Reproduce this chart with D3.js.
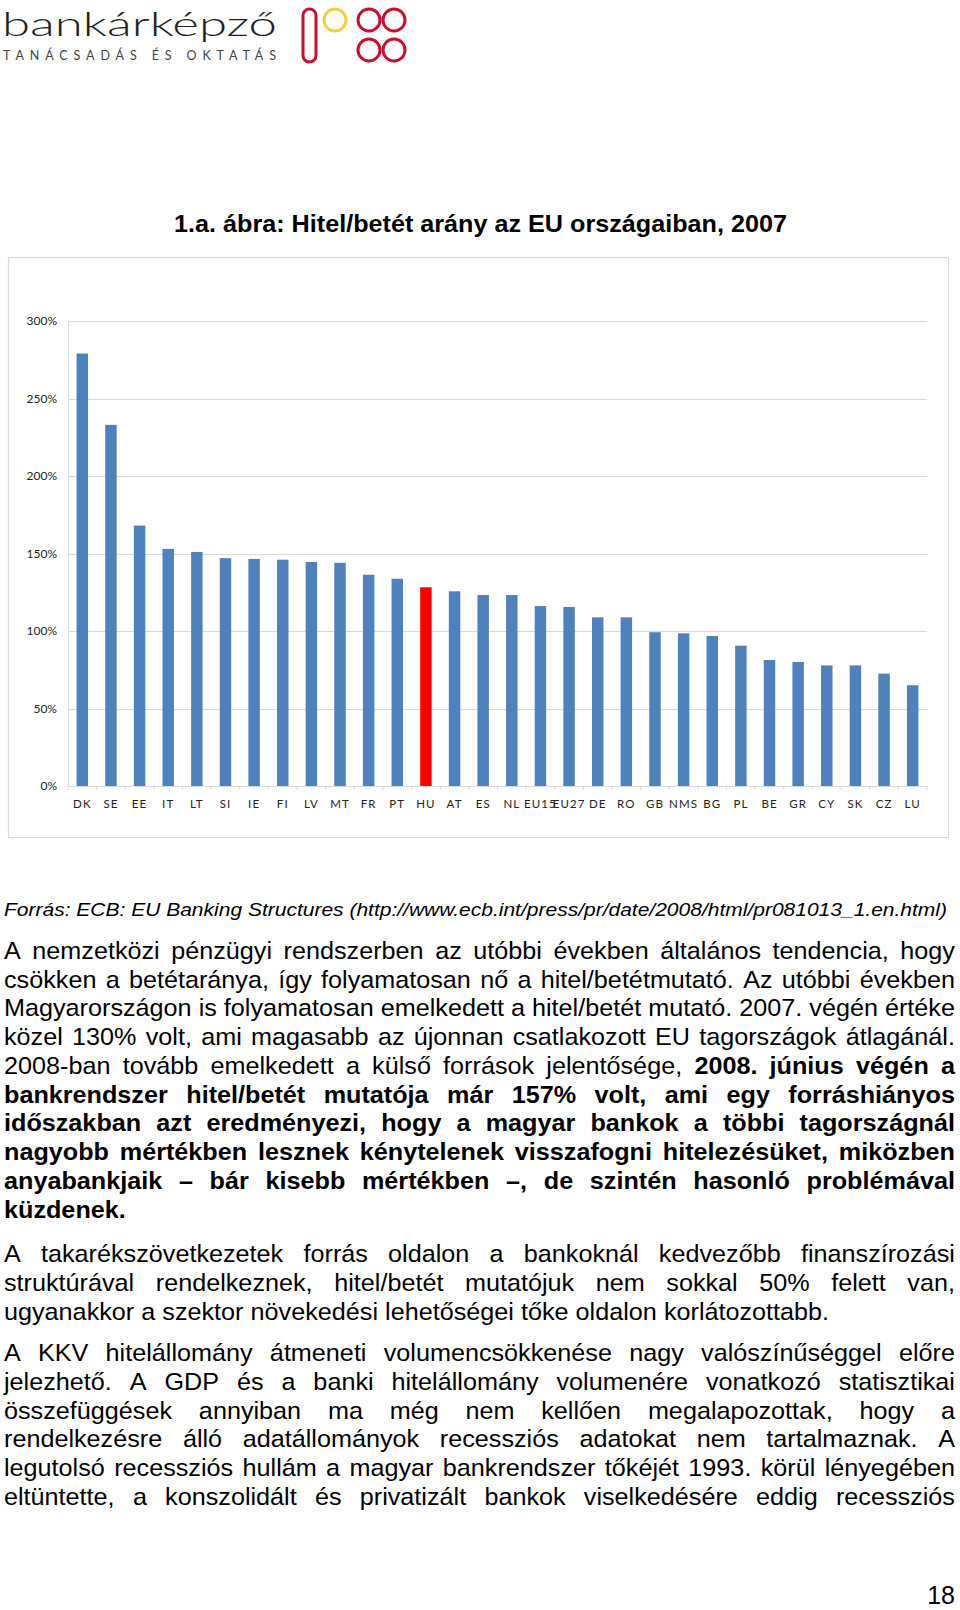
<!DOCTYPE html>
<html><head><meta charset="utf-8">
<script src="https://cdn.jsdelivr.net/npm/d3@7/dist/d3.min.js"></script>
<style>html,body{margin:0;padding:0;background:#fff;}svg{display:block;}</style>
</head><body>
<svg id="page" width="960" height="1610"></svg>
<script>
// ---- chart data ----
const categories = ["DK","SE","EE","IT","LT","SI","IE","FI","LV","MT","FR","PT","HU","AT","ES","NL","EU15","EU27","DE","RO","GB","NMS","BG","PL","BE","GR","CY","SK","CZ","LU"];
const values = [279,233,168,153,151,147,146.5,146,144.5,144,136.3,133.7,128.2,125.6,123.2,123.2,116.1,115.5,108.8,108.8,99.2,98.5,96.8,90.5,81.3,80,77.8,77.8,72.5,65];
const highlighted = ["HU"];
const yTicks = [0,50,100,150,200,250,300];
const chartTitle = "1.a. ábra: Hitel/betét arány az EU országaiban, 2007";
const sourceText = "Forrás: ECB: EU Banking Structures (http://www.ecb.int/press/pr/date/2008/html/pr081013_1.en.html)";
// body lines: [text, index of first bold word (-1 none), justified]
const bodyLines = [
 ["A nemzetközi pénzügyi rendszerben az utóbbi években általános tendencia, hogy",-1,true],
 ["csökken a betétaránya, így folyamatosan nő a hitel/betétmutató. Az utóbbi években",-1,true],
 ["Magyarországon is folyamatosan emelkedett a hitel/betét mutató. 2007. végén értéke",-1,true],
 ["közel 130% volt, ami magasabb az újonnan csatlakozott EU tagországok átlagánál.",-1,true],
 ["2008-ban tovább emelkedett a külső források jelentősége, 2008. június végén a",7,true],
 ["bankrendszer hitel/betét mutatója már 157% volt, ami egy forráshiányos",0,true],
 ["időszakban azt eredményezi, hogy a magyar bankok a többi tagországnál",0,true],
 ["nagyobb mértékben lesznek kénytelenek visszafogni hitelezésüket, miközben",0,true],
 ["anyabankjaik – bár kisebb mértékben –, de szintén hasonló problémával",0,true],
 ["küzdenek.",0,false],
 ["A takarékszövetkezetek forrás oldalon a bankoknál kedvezőbb finanszírozási",-1,true],
 ["struktúrával rendelkeznek, hitel/betét mutatójuk nem sokkal 50% felett van,",-1,true],
 ["ugyanakkor a szektor növekedési lehetőségei tőke oldalon korlátozottabb.",-1,false],
 ["A KKV hitelállomány átmeneti volumencsökkenése nagy valószínűséggel előre",-1,true],
 ["jelezhető. A GDP és a banki hitelállomány volumenére vonatkozó statisztikai",-1,true],
 ["összefüggések annyiban ma még nem kellően megalapozottak, hogy a",-1,true],
 ["rendelkezésre álló adatállományok recessziós adatokat nem tartalmaznak. A",-1,true],
 ["legutolsó recessziós hullám a magyar bankrendszer tőkéjét 1993. körül lényegében",-1,true],
 ["eltüntette, a konszolidált és privatizált bankok viselkedésére eddig recessziós",-1,true]
];
const bodyBaselines = [959,988,1016,1045,1074,1103,1131,1160,1189,1218,1262,1291,1320,1361,1390,1419,1447,1476,1505];

const svg = d3.select("#page");

// ---- logo ----
const logo = svg.append("g");
logo.append("text").attr("x",2).attr("y",36).attr("font-family","Lato").attr("font-weight",300)
  .attr("font-size",34).attr("fill","#231f20").attr("textLength",275).attr("lengthAdjust","spacingAndGlyphs")
  .text("bankárképző");
logo.append("text").attr("x",3).attr("y",60).attr("font-family","Lato").attr("font-size",12.5)
  .attr("fill","#444").attr("textLength",273).attr("lengthAdjust","spacing")
  .text("TANÁCSADÁS ÉS OKTATÁS");
const red = "#c8102e";
logo.append("rect").attr("x",303).attr("y",9).attr("width",13).attr("height",53).attr("rx",6.5)
  .attr("fill","none").attr("stroke",red).attr("stroke-width",3);
logo.append("circle").attr("cx",335).attr("cy",20).attr("r",11).attr("fill","none").attr("stroke","#f2cf3c").attr("stroke-width",3);
[[369,20],[394,20],[369,50],[394,50]].forEach(([cx,cy])=>{
  logo.append("circle").attr("cx",cx).attr("cy",cy).attr("r",11).attr("fill","none").attr("stroke",red).attr("stroke-width",3);
});

// ---- title ----
svg.append("text").attr("x",174).attr("y",232).attr("font-family","Liberation Sans, Arial").attr("font-weight","bold")
  .attr("font-size",24).attr("fill","#000").attr("textLength",613).attr("lengthAdjust","spacingAndGlyphs").text(chartTitle);

// ---- chart ----
svg.append("rect").attr("x",8.5).attr("y",257.5).attr("width",940).attr("height",580)
  .attr("fill","#fff").attr("stroke","#d9d9d9").attr("stroke-width",1.2);

const x = d3.scaleBand().domain(categories).range([68,927]).paddingInner(0.6).paddingOuter(0.3);
const y = d3.scaleLinear().domain([0,300]).range([786,321]);

const grid = svg.append("g");
grid.selectAll("line").data(yTicks.filter(d=>d>0)).join("line")
  .attr("x1",68).attr("x2",927).attr("y1",d=>Math.round(y(d))+0.5).attr("y2",d=>Math.round(y(d))+0.5)
  .attr("stroke","#d9d9d9").attr("stroke-width",1);

const yAxis = svg.append("g").attr("transform","translate(68,0)")
  .call(d3.axisLeft(y).tickValues(yTicks).tickFormat(d=>d+"%").tickSize(0).tickPadding(11));
yAxis.select(".domain").attr("stroke","#d9d9d9");
yAxis.selectAll("text").attr("font-family","Lato").attr("font-size",12).attr("fill","#222");

svg.append("g").selectAll("rect").data(categories).join("rect")
  .attr("x",d=>x(d)).attr("width",x.bandwidth())
  .attr("y",(d,i)=>y(values[i])).attr("height",(d,i)=>y(0)-y(values[i]))
  .attr("fill",d=>highlighted.includes(d)?"#ff0000":"#4f81bd");

const xAxis = svg.append("g").attr("transform","translate(0,786)")
  .call(d3.axisBottom(x).tickSize(0).tickPadding(14));
xAxis.select(".domain").attr("stroke","#d9d9d9");
xAxis.selectAll("text").attr("font-family","Lato").attr("font-size",11.5).attr("fill","#222").attr("letter-spacing","1.1px");
// boundary tick marks
svg.append("g").selectAll("line").data(d3.range(categories.length+1)).join("line")
  .attr("x1",i=>68+i*x.step()).attr("x2",i=>68+i*x.step()).attr("y1",786).attr("y2",790)
  .attr("stroke","#d9d9d9");

// ---- source ----
svg.append("text").attr("x",4).attr("y",916).attr("font-family","Liberation Sans Narrow, Liberation Sans, Arial")
  .attr("font-style","italic").attr("font-size",19).attr("fill","#000")
  .attr("textLength",943).attr("lengthAdjust","spacingAndGlyphs").text(sourceText);

// ---- body text (justified) ----
const bodyFont = 24, sx = 1.05, left = 4, right = 955;
bodyLines.forEach(([txt,boldFrom,just],li)=>{
  const words = txt.split(" ");
  const g = svg.append("g");
  const nodes = words.map((w,wi)=>g.append("text")
    .attr("font-family","Liberation Sans, Arial").attr("font-size",bodyFont)
    .attr("font-weight",(boldFrom>=0 && wi>=boldFrom)?"bold":"normal").attr("fill","#000").text(w));
  const widths = nodes.map(n=>n.node().getComputedTextLength()*sx);
  const total = d3.sum(widths);
  const space = bodyFont*0.278*sx;
  const gap = (just && words.length>1) ? (right-left-total)/(words.length-1) : space;
  let cx = left;
  nodes.forEach((n,i)=>{ n.attr("transform",`translate(${cx},${bodyBaselines[li]}) scale(${sx},1)`); cx += widths[i]+gap; });
});

// ---- page number ----
svg.append("text").attr("x",955).attr("y",1604).attr("text-anchor","end").attr("font-family","Liberation Sans, Arial")
  .attr("font-size",25).attr("fill","#000").text("18");
</script>
</body></html>
